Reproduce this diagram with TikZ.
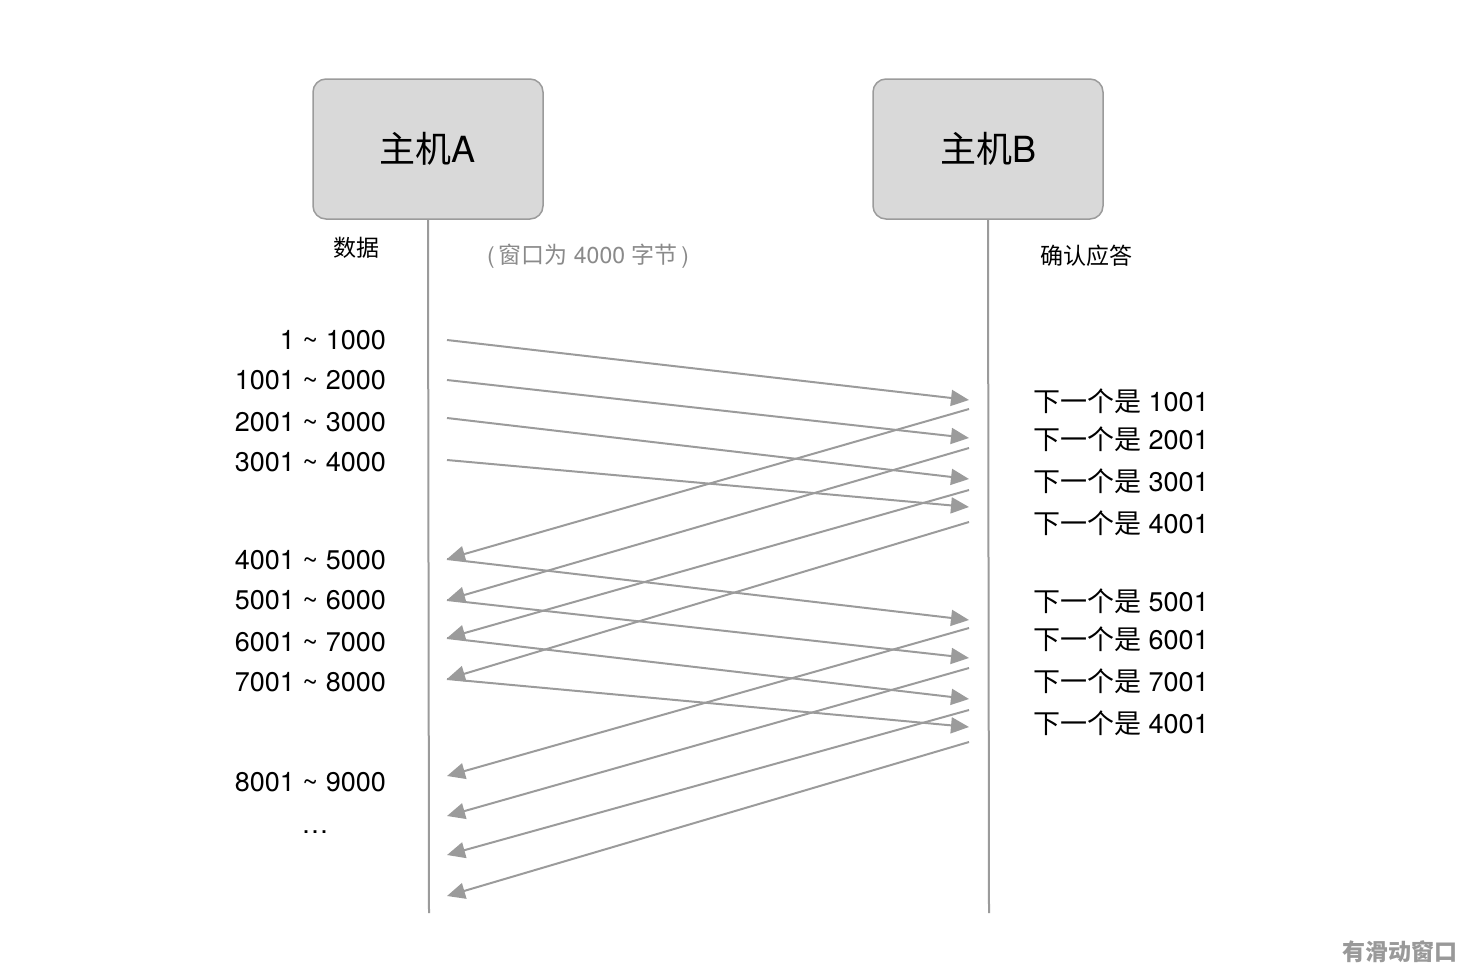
\documentclass[tikz,border=0pt]{standalone}
\usepackage{fontspec}
\setmainfont{TeX Gyre Heros}
\newfontfamily\cjk{Noto Sans CJK SC}
\usetikzlibrary{arrows.meta}
\usetikzlibrary{positioning}

\definecolor{hostfill}{HTML}{D9D9D9}
\definecolor{hostline}{HTML}{9B9B9B}
\definecolor{msgline}{HTML}{9B9B9B}
\definecolor{notegray}{HTML}{999999}

\tikzset{
  host/.style={draw=hostline,fill=hostfill,line width=1.5pt,rounded corners=13pt,
    minimum width=230pt,minimum height=140pt,inner sep=0pt,font=\fontsize{36}{40}\selectfont},
  lifeline/.style={draw=hostline,line width=2pt},
  msg/.style={draw=msgline,line width=2pt,-{Triangle[length=18pt,width=16pt]}},
  seqlabel/.style={inner sep=0pt,font=\fontsize{27}{31}\selectfont},
  headlabel/.style={inner sep=0pt,font=\fontsize{23}{27}\selectfont}
}

\begin{document}
\begin{tikzpicture}[x=1pt,y=-1pt]
\useasboundingbox (0,0) rectangle (1480,978);

% hosts and lifelines
\node[host] (hostA) at (428,149) {{\cjk 主机}A};
\node[host] (hostB) at (988,149) {{\cjk 主机}B};
\coordinate (endA) at (429,913);
\coordinate (endB) at (989,913);
\draw[lifeline] (hostA.south) -- (endA);
\draw[lifeline] (hostB.south) -- (endB);

\node[headlabel,font=\fontsize{23}{27}\selectfont\cjk] (data) at (356,248) {数据};
\node[headlabel,text=notegray!90!black] (window) at (588,256) {(\,{\cjk 窗口为} 4000 {\cjk 字节}\,)};
\node[headlabel,font=\fontsize{23}{27}\selectfont\cjk] (ack) at (1086,256) {确认应答};

% data segments
\node[seqlabel,anchor=east] (d1) at (386,340) {1 \textasciitilde{} 1000};
\node[seqlabel,anchor=east] (d2) at (386,380) {1001 \textasciitilde{} 2000};
\node[seqlabel,anchor=east] (d3) at (386,422) {2001 \textasciitilde{} 3000};
\node[seqlabel,anchor=east] (d4) at (386,462) {3001 \textasciitilde{} 4000};
\node[seqlabel,anchor=east] (d5) at (386,560) {4001 \textasciitilde{} 5000};
\node[seqlabel,anchor=east] (d6) at (386,600) {5001 \textasciitilde{} 6000};
\node[seqlabel,anchor=east] (d7) at (386,642) {6001 \textasciitilde{} 7000};
\node[seqlabel,anchor=east] (d8) at (386,682) {7001 \textasciitilde{} 8000};
\node[seqlabel,anchor=east] (d9) at (386,782) {8001 \textasciitilde{} 9000};
\node[seqlabel,anchor=base] (dmore) at (315,833) {\ldots};

% acknowledgements
\node[seqlabel,anchor=west] (a1) at (1033,401) {{\cjk 下一个是} 1001};
\node[seqlabel,anchor=west] (a2) at (1033,439) {{\cjk 下一个是} 2001};
\node[seqlabel,anchor=west] (a3) at (1033,481) {{\cjk 下一个是} 3001};
\node[seqlabel,anchor=west] (a4) at (1033,523) {{\cjk 下一个是} 4001};
\node[seqlabel,anchor=west] (a5) at (1033,601) {{\cjk 下一个是} 5001};
\node[seqlabel,anchor=west] (a6) at (1033,639) {{\cjk 下一个是} 6001};
\node[seqlabel,anchor=west] (a7) at (1033,681) {{\cjk 下一个是} 7001};
\node[seqlabel,anchor=west] (a8) at (1033,723) {{\cjk 下一个是} 4001};

% send points on A, receive points on B
\coordinate (sA1) at (447,340);
\coordinate (sA2) at (447,380);
\coordinate (sA3) at (447,418);
\coordinate (sA4) at (447,460);
\coordinate (sA5) at (447,559);
\coordinate (sA6) at (447,600);
\coordinate (sA7) at (447,638);
\coordinate (sA8) at (447,679);
\coordinate (rB1) at (969,400);
\coordinate (rB2) at (969,438);
\coordinate (rB3) at (969,479);
\coordinate (rB4) at (969,507);
\coordinate (rB5) at (969,620);
\coordinate (rB6) at (969,658);
\coordinate (rB7) at (969,699);
\coordinate (rB8) at (969,727);
% ack points on B, arrivals on A
\coordinate (sB1) at (969,409);
\coordinate (sB2) at (969,448);
\coordinate (sB3) at (969,490);
\coordinate (sB4) at (969,522);
\coordinate (sB5) at (969,628);
\coordinate (sB6) at (969,668);
\coordinate (sB7) at (969,710);
\coordinate (sB8) at (969,742);
\coordinate (rA1) at (447,776);
\coordinate (rA2) at (447,816);
\coordinate (rA3) at (447,855);
\coordinate (rA4) at (447,896);

\draw[msg] (sA1) -- (rB1);
\draw[msg] (sA2) -- (rB2);
\draw[msg] (sA3) -- (rB3);
\draw[msg] (sA4) -- (rB4);
\draw[msg] (sB1) -- (sA5);
\draw[msg] (sB2) -- (sA6);
\draw[msg] (sB3) -- (sA7);
\draw[msg] (sB4) -- (sA8);
\draw[msg] (sA5) -- (rB5);
\draw[msg] (sA6) -- (rB6);
\draw[msg] (sA7) -- (rB7);
\draw[msg] (sA8) -- (rB8);
\draw[msg] (sB5) -- (rA1);
\draw[msg] (sB6) -- (rA2);
\draw[msg] (sB7) -- (rA3);
\draw[msg] (sB8) -- (rA4);

\node[headlabel,text=notegray,font=\fontsize{23}{27}\selectfont\cjk\bfseries] (caption) at (1400,952) {有滑动窗口};
\end{tikzpicture}
\end{document}
